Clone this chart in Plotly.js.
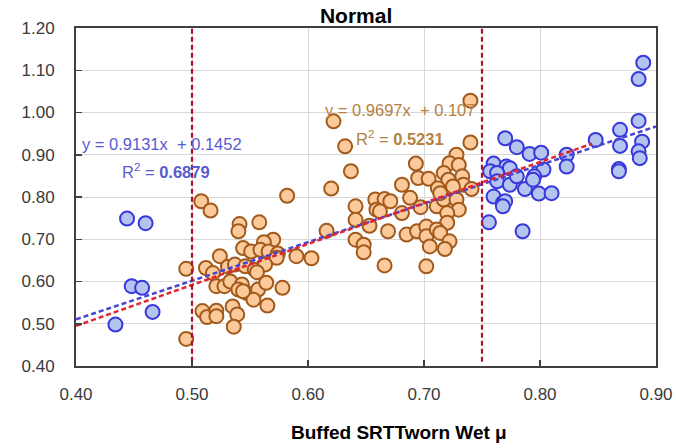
<!DOCTYPE html>
<html>
<head>
<meta charset="utf-8">
<script src="https://cdn.plot.ly/plotly-3.0.1.min.js"></script>
<style>html,body{margin:0;padding:0;background:#fff;}#chart{width:676px;height:448px;}</style>
</head>
<body>
<div id="chart"></div>
<script>
// Orange series (0.50 - 0.75 band)
const orangeX = [0.495,0.495,0.508,0.516,0.582,0.620,0.541,0.540,0.558,0.616,0.570,0.562,0.544,0.551,0.559,0.566,0.574,0.573,0.590,0.603,0.524,0.512,0.518,0.531,0.537,0.546,0.554,0.563,0.556,0.521,0.528,0.533,0.543,0.540,0.547,0.557,0.564,0.578,0.553,0.565,0.509,0.513,0.521,0.521,0.535,0.539,0.536,0.544,
  0.740,0.622,0.632,0.637,0.740,0.728,0.722,0.730,0.693,0.695,0.704,0.717,0.721,0.733,0.734,0.741,0.712,0.724,0.681,0.658,0.666,0.671,0.688,0.697,0.641,0.659,0.681,0.711,0.717,0.728,0.730,0.720,0.641,0.653,0.669,0.720,0.685,0.694,0.702,0.702,0.711,0.714,0.722,0.641,0.648,0.648,0.705,0.718,0.666,0.702,0.714,0.725,0.662];
const orangeY = [0.630,0.464,0.790,0.768,0.803,0.820,0.736,0.719,0.740,0.720,0.699,0.693,0.679,0.671,0.675,0.671,0.666,0.656,0.660,0.655,0.660,0.632,0.620,0.635,0.640,0.636,0.628,0.640,0.622,0.589,0.589,0.600,0.593,0.581,0.573,0.581,0.597,0.585,0.557,0.543,0.530,0.516,0.531,0.518,0.541,0.522,0.493,0.577,
  1.028,0.979,0.920,0.861,0.929,0.900,0.880,0.876,0.879,0.845,0.843,0.857,0.841,0.849,0.829,0.819,0.821,0.817,0.829,0.794,0.795,0.790,0.798,0.776,0.778,0.770,0.762,0.778,0.794,0.794,0.770,0.762,0.746,0.732,0.719,0.739,0.711,0.719,0.730,0.707,0.723,0.715,0.695,0.699,0.687,0.669,0.683,0.677,0.638,0.636,0.809,0.825,0.766];

// Blue series (outside the band)
const blueX = [0.889,0.885,0.885,0.869,0.888,0.869,0.885,0.886,0.868,0.868,0.848,0.823,0.823,0.770,0.780,0.791,0.801,0.803,0.760,0.771,0.774,0.757,0.763,0.763,0.774,0.780,0.787,0.795,0.794,0.799,0.810,0.760,0.768,0.770,0.768,0.756,0.785,
  0.444,0.460,0.448,0.457,0.466,0.434];
const blueY = [1.118,1.079,0.980,0.959,0.931,0.921,0.908,0.892,0.866,0.861,0.935,0.900,0.872,0.939,0.918,0.902,0.905,0.865,0.879,0.872,0.868,0.861,0.857,0.837,0.829,0.849,0.819,0.849,0.841,0.808,0.809,0.801,0.786,0.790,0.778,0.740,0.719,
  0.749,0.738,0.589,0.585,0.528,0.498];

// Trendline equations shown on the chart
const blueSlope = 0.9131, blueIntercept = 0.1452, blueR2 = "0.6879";
const redSlope = 0.9697, redIntercept = 0.107, redR2 = "0.5231";
const blueTrendX = [0.40, 0.90];
const redTrendX = [0.40, 0.845];
const bandLimits = [0.50, 0.75];
const bandY = [0.41, 1.20];

const xTicks = [0.40,0.50,0.60,0.70,0.80,0.90];
const yTicks = [0.40,0.50,0.60,0.70,0.80,0.90,1.00,1.10,1.20];

const FONT = "Liberation Sans, Arial, sans-serif";

const traces = [
  {x: orangeX, y: orangeY, type: 'scatter', mode: 'markers', name: 'Orange',
   marker: {size: 14, color: '#FCCA9A', line: {color: '#A25A1C', width: 2}}},
  {x: blueX, y: blueY, type: 'scatter', mode: 'markers', name: 'Blue',
   marker: {size: 14, color: '#B3C5EE', line: {color: '#3838DC', width: 2}}},
  {x: blueTrendX, y: blueTrendX.map(v => blueSlope*v + blueIntercept), type: 'scatter', mode: 'lines',
   line: {color: '#4646D6', width: 2.5, dash: '5px,3px'}},
  {x: redTrendX, y: redTrendX.map(v => redSlope*v + redIntercept), type: 'scatter', mode: 'lines',
   line: {color: '#E0252F', width: 2.5, dash: '5px,3px'}},
  {x: [bandLimits[0], bandLimits[0]], y: bandY, type: 'scatter', mode: 'lines',
   line: {color: '#B0102A', width: 2.2, dash: '5px,3px'}},
  {x: [bandLimits[1], bandLimits[1]], y: bandY, type: 'scatter', mode: 'lines',
   line: {color: '#B0102A', width: 2.2, dash: '5px,3px'}}
];

const layout = {
  width: 676, height: 448,
  margin: {l: 76, r: 20, t: 28, b: 82},
  paper_bgcolor: '#fff', plot_bgcolor: '#fff',
  showlegend: false,
  font: {family: FONT, color: '#404040'},
  title: {text: '<b>Normal</b>', font: {family: FONT, size: 21, color: '#000'},
          xref: 'paper', x: 0.483, xanchor: 'center', yref: 'container', y: 0.965, yanchor: 'middle'},
  xaxis: {range: [0.40, 0.90], tickvals: xTicks, ticktext: xTicks.map(v => v.toFixed(2)),
          showgrid: true, gridcolor: '#D9D9D9', gridwidth: 1, zeroline: false,
          showline: true, linecolor: '#404040', linewidth: 2, mirror: true,
          ticks: 'inside', ticklen: 6, tickwidth: 1.5, tickcolor: '#404040',
          ticklabelstandoff: 12, tickfont: {family: FONT, size: 17, color: '#3a3a3a'}},
  yaxis: {range: [0.40, 1.20], tickvals: yTicks, ticktext: yTicks.map(v => v.toFixed(2)),
          showgrid: true, gridcolor: '#D9D9D9', gridwidth: 1, zeroline: false,
          showline: true, linecolor: '#404040', linewidth: 2, mirror: true,
          ticks: 'inside', ticklen: 6, tickwidth: 1.5, tickcolor: '#404040',
          ticklabelstandoff: 16, tickfont: {family: FONT, size: 17, color: '#3a3a3a'}},
  annotations: [
    {xref: 'paper', yref: 'paper', x: 0.557, y: -0.198, xanchor: 'center', yanchor: 'middle', showarrow: false,
     text: '<b>Buffed SRTTworn Wet μ</b>', font: {family: FONT, size: 19, color: '#000'}},
    {xref: 'x', yref: 'y', x: 0.4032, y: 0.9245, xanchor: 'left', yanchor: 'middle', showarrow: false,
     text: 'y = ' + blueSlope.toFixed(4) + 'x  + ' + blueIntercept.toFixed(4), font: {family: FONT, size: 16.5, color: '#5A5AD0'}},
    {xref: 'x', yref: 'y', x: 0.478, y: 0.861, xanchor: 'center', yanchor: 'middle', showarrow: false,
     text: 'R<sup>2</sup> = <b>' + blueR2 + '</b>', font: {family: FONT, size: 16.5, color: '#5A5AD0'}},
    {xref: 'x', yref: 'y', x: 0.6793, y: 1.0057, xanchor: 'center', yanchor: 'middle', showarrow: false,
     text: 'y = ' + redSlope.toFixed(4) + 'x  + ' + redIntercept.toFixed(3), font: {family: FONT, size: 16.5, color: '#B5823F'}},
    {xref: 'x', yref: 'y', x: 0.6793, y: 0.9395, xanchor: 'center', yanchor: 'middle', showarrow: false,
     text: 'R<sup>2</sup> = <b>' + redR2 + '</b>', font: {family: FONT, size: 16.5, color: '#B5823F'}}
  ]
};

Plotly.newPlot('chart', traces, layout, {staticPlot: true, displayModeBar: false});
</script>
</body>
</html>
